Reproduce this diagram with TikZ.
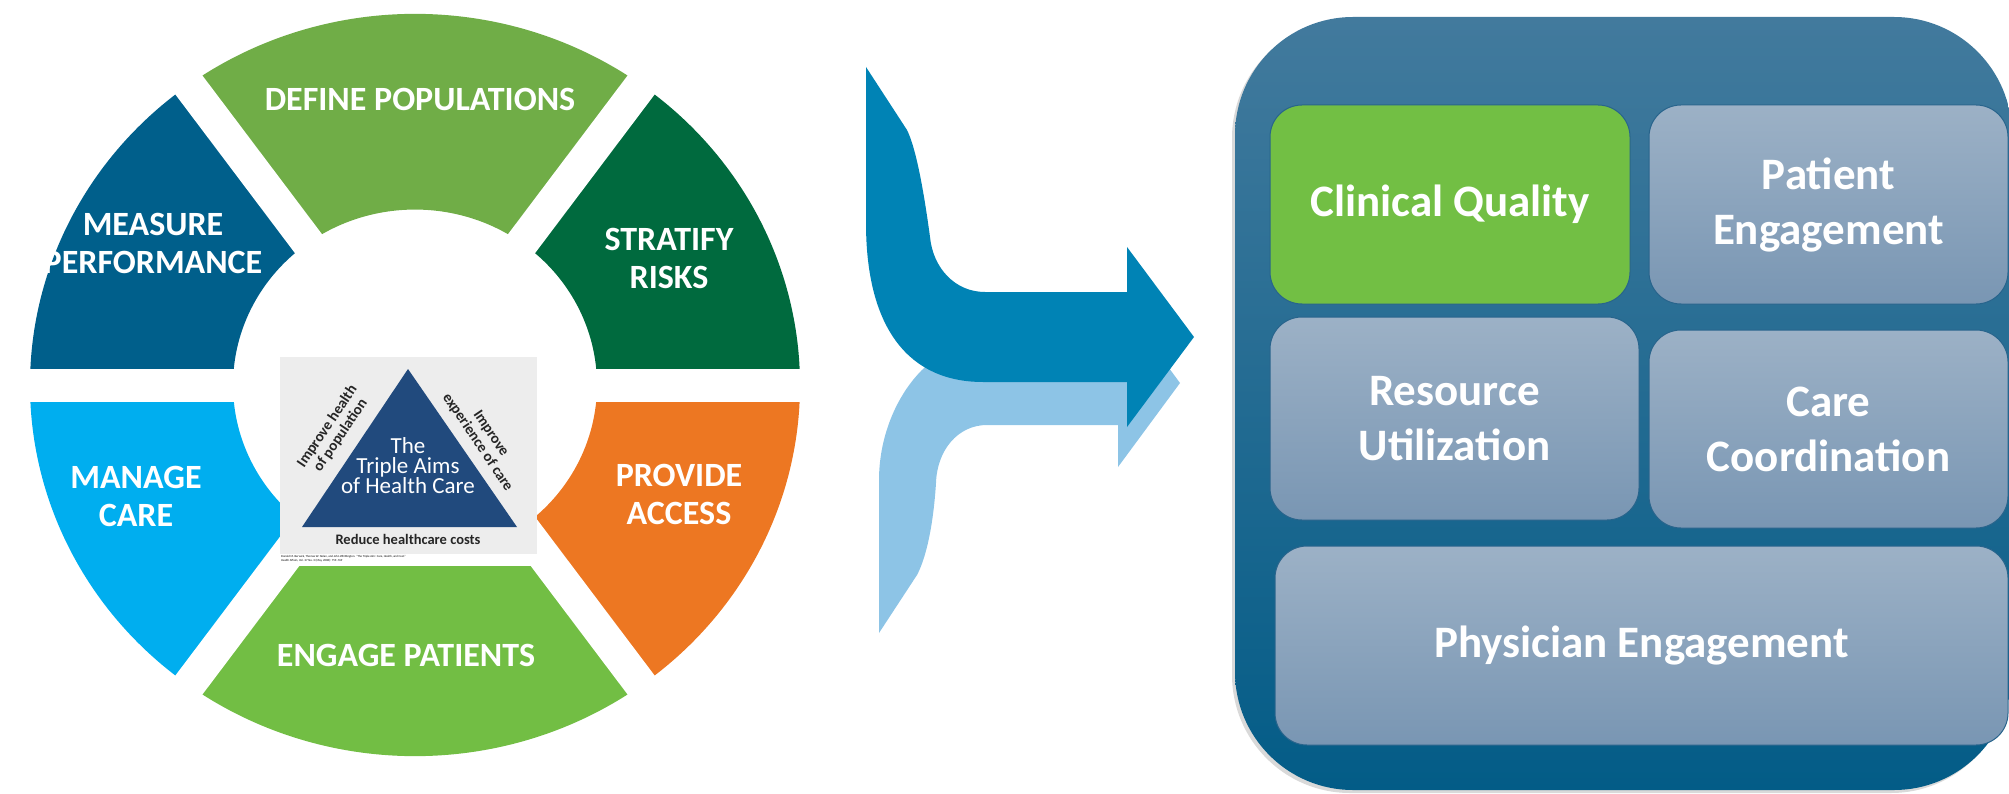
\documentclass[tikz,border=0pt]{standalone}
\usepackage{fontspec}
\setmainfont{Carlito}
\usetikzlibrary{shadows}

\definecolor{definegreen}{RGB}{112,173,71}
\definecolor{riskgreen}{RGB}{0,106,62}
\definecolor{accessorange}{RGB}{237,119,34}
\definecolor{engagegreen}{RGB}{114,190,68}
\definecolor{manageblue}{RGB}{0,174,239}
\definecolor{measureblue}{RGB}{0,95,139}
\definecolor{aimsnavy}{RGB}{33,74,125}
\definecolor{aimsback}{RGB}{237,237,237}
\definecolor{arrowdark}{RGB}{0,131,181}
\definecolor{arrowlight}{RGB}{141,196,230}
\definecolor{paneltop}{RGB}{66,122,157}
\definecolor{panelbottom}{RGB}{3,92,135}
\definecolor{tiletop}{RGB}{156,177,198}
\definecolor{tilebottom}{RGB}{121,150,179}
\definecolor{tileedge}{RGB}{40,100,140}
\definecolor{qualitygreen}{RGB}{114,191,68}

\tikzset{
  seglabel/.style={text=white, align=center, inner sep=0pt, font=\bfseries\fontsize{34}{38}\selectfont},
  sidelabel/.style={text=black!85, align=center, inner sep=0pt, font=\bfseries\fontsize{15}{16}\selectfont},
  tile/.style={rounded corners=32pt, inner sep=0pt, text=white, align=center, draw=tileedge, line width=1pt,
    font=\bfseries\fontsize{45}{55}\selectfont},
  greytile/.style={tile, top color=tiletop, bottom color=tilebottom},
  greentile/.style={tile, fill=qualitygreen},
}

\begin{document}
\begin{tikzpicture}[x=1pt, y=-1pt]
  \useasboundingbox (0,0) rectangle (2009,794);
  \clip (0,0) rectangle (2009,794);

  % the care cycle
  \begin{scope}[shift={(415,385)}, x=1pt, y=1pt, yscale=0.964]
    \foreach \a/\b/\c in {0/54/riskgreen, 54/126/definegreen, 126/180/measureblue,
                          180/234/manageblue, 234/306/engagegreen, 306/360/accessorange}
      \fill[\c] (\a:385) arc[start angle=\a, end angle=\b, radius=385]
        -- (\b:182) arc[start angle=\b, end angle=\a, radius=182] -- cycle;
    % white gaps between the slices
    \foreach \a in {0,54,126}
      \draw[white, line width=33pt] (\a:400) -- (\a+180:400);
  \end{scope}

  \node[seglabel] (define) at (420,99) {DEFINE POPULATIONS};
  \node[seglabel] (stratify) at (669,258) {STRATIFY\\RISKS};
  \node[seglabel] (provide) at (679,494) {PROVIDE\\ACCESS};
  \node[seglabel] (engage) at (406,655) {ENGAGE PATIENTS};
  \node[seglabel] (manage) at (136,496) {MANAGE\\CARE};
  \node[seglabel] (measure) at (153,243) {MEASURE\\PERFORMANCE};

  % triple aim inset
  \fill[white] (280,357) rectangle (537,566);
  \fill[aimsback] (280,357) rectangle (537,554);
  \fill[aimsnavy] (408,369) -- (517,527) -- (302,527) -- cycle;
  \node[text=white, align=center, inner sep=0pt, font=\fontsize{23}{20}\selectfont] (aims) at (408,466)
    {The\\Triple Aims\\of Health Care};
  \node[sidelabel, rotate=56] (health) at (334,431) {Improve health\\of population};
  \node[sidelabel, rotate=-56] (experience) at (484,438) {Improve\\experience of care};
  \node[sidelabel, font=\bfseries\fontsize{14.5}{15}\selectfont] (costs) at (408,539) {Reduce healthcare costs};
  \node[anchor=north west, align=left, inner sep=0pt, font=\fontsize{3}{3.8}\selectfont] (source) at (281,555.5)
    {Donald M. Berwick, Thomas W. Nolan, and John Whittington. ``The Triple Aim: Care, Health, and Cost.''\\
     Health Affairs, Vol. 27 No. 3 (May, 2008): 759--769};

  % merging arrows
  \fill[arrowlight] (879,633) -- (879,480) .. controls (879,410) and (925,341) .. (987,341)
    -- (1118,341) -- (1118,299) -- (1180,383) -- (1118,467) -- (1118,425) -- (987,425)
    .. controls (958,425) and (937,450) .. (936,483)
    .. controls (933,530) and (925,560) .. (917,575) -- cycle;
  \fill[arrowdark] (866,67) -- (907,130) .. controls (917,150) and (925,200) .. (930,237)
    .. controls (933,268) and (955,292) .. (985,292)
    -- (1127,292) -- (1127,247) -- (1194,337) -- (1127,427) -- (1127,382) -- (983,382)
    .. controls (910,382) and (866,330) .. (866,223) -- cycle;

  % measure panel
  \shade[rounded corners=118pt, top color=paneltop, bottom color=panelbottom,
    drop shadow={shadow xshift=-3pt, shadow yshift=-3pt, opacity=0.3}]
    (1235,17) rectangle (2012,790);

  \node[greentile, minimum width=360pt, minimum height=199pt] (quality) at (1450,204.5) {Clinical Quality};
  \node[greytile, minimum width=359pt, minimum height=199pt] (patient) at (1828.5,204.5) {Patient\\Engagement};
  \node[greytile, minimum width=369pt, minimum height=203pt] (resource) at (1454.5,418.5) {Resource\\Utilization};
  \node[greytile, minimum width=359pt, minimum height=198pt] (coordination) at (1828.5,429) {Care\\Coordination};
  \node[greytile, minimum width=733pt, minimum height=199pt] (physician) at (1641.5,645.5) {Physician Engagement};
\end{tikzpicture}
\end{document}
